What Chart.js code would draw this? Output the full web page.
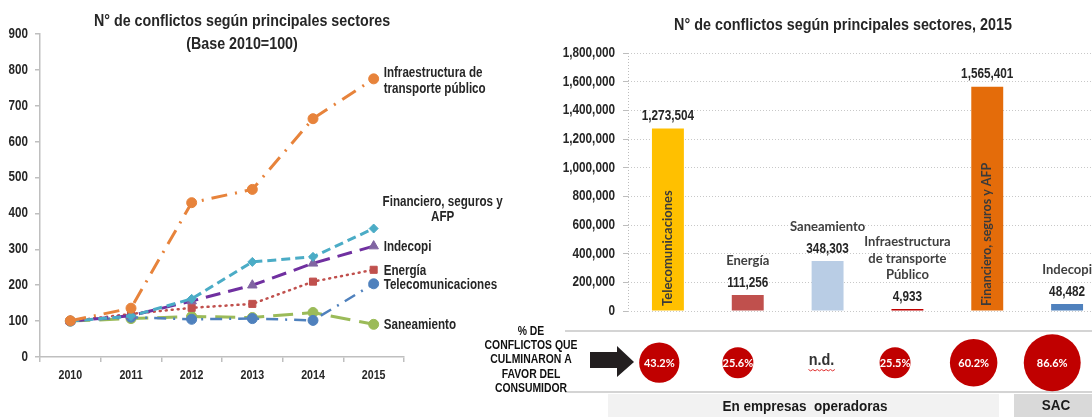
<!DOCTYPE html>
<html><head><meta charset="utf-8">
<script src="https://cdn.jsdelivr.net/npm/chart.js@4"></script>
<style>
html,body{margin:0;padding:0;background:#fff;overflow:hidden;}
#wrap{position:relative;width:1092px;height:417px;overflow:hidden;background:#fff;}
.cv{position:absolute;top:0;}
</style></head><body>
<div id="wrap">
<div class="cv" style="left:0;width:540px;height:417px"><canvas id="c1" width="540" height="417"></canvas></div>
<div class="cv" style="left:540px;width:580px;height:417px"><canvas id="c2" width="580" height="417"></canvas></div>
<div class="cv" style="left:0;width:1120px;height:417px"><canvas id="c3" width="1120" height="417"></canvas></div>
</div>
<script>
// ---------- DATA ----------
const years = ['2010','2011','2012','2013','2014','2015'];
const infraIdx    = [101, 136, 430, 467, 664, 775];
const finanIdx    = [100, 114, 162, 265, 279, 358];
const indecopiIdx = [100, 115, 156, 200, 261, 309];
const energiaIdx  = [100, 120, 137, 148, 210, 243];
const telecomIdx  = [100, 111, 105, 107, 102, 204];
const saneamIdx   = [100, 107, 113, 110, 124, 91];
const lineNames = ['Infraestructura de transporte público','Financiero, seguros y AFP','Indecopi','Energía','Telecomunicaciones','Saneamiento'];
const lineLabels = [['Infraestructura de','transporte público'],['Financiero, seguros y','AFP'],['Indecopi'],['Energía'],['Telecomunicaciones'],['Saneamiento']];
const leftYTicks = [0,100,200,300,400,500,600,700,800,900];

const sectors = ['Telecomunicaciones','Energía','Saneamiento','Infraestructura de transporte Público','Financiero, seguros y AFP','Indecopi'];
const sectorLabelLines = [['Telecomunicaciones'],['Energía'],['Saneamiento'],['Infraestructura','de transporte','Público'],['Financiero, seguros y AFP'],['Indecopi']];
const conflicts2015 = [1273504, 111256, 348303, 4933, 1565401, 48482];
const rotatedInside = [true, false, false, false, true, false];
const pctFavor = [43.2, 25.6, null, 25.5, 60.2, 86.6];
const rightYTicks = [0,200000,400000,600000,800000,1000000,1200000,1400000,1600000,1800000];

const titleLeft = ['N° de conflictos según principales sectores','(Base 2010=100)'];
const titleRight = 'N° de conflictos según principales sectores, 2015';
const sideText = ['% DE','CONFLICTOS QUE','CULMINARON A','FAVOR DEL','CONSUMIDOR'];
const groupLabels = ['En empresas  operadoras','SAC'];
const naText = 'n.d.';

// ---------- STYLE ----------
const SANS = '"Liberation Sans",Arial,sans-serif';
const CAL = 'Lato,"Open Sans",sans-serif';
const TXT = '#262626';
const NX = 0.83; // horizontal condensing to imitate a narrow face
const lineColors = ['#E7833B','#4BACC6','#7030A0','#C0504D','#4F81BD','#9BBB59'];
const markerColors = ['#E7833B','#4BACC6','#8064A2','#C0504D','#4F81BD','#9BBB59'];
const lineDashes = [[16,8,2,8],[9,5],[15,8],[1,5],[12,7,2,7],[20,9]];
const lineWidths = [3,3,3,2.5,2.5,3];
const capStyles = ['butt','butt','butt','round','butt','butt'];
const pointStyles = ['circle','rectRot','triangle','rect','circle','circle'];
const pointRadii = [5,4.5,5.5,5,5,5];
const barColors = ['#FFC000','#C0504D','#B9CDE5','#C00000','#E46C0A','#4F81BD'];

Chart.defaults.animation = false;
Chart.defaults.events = [];

function nText(ctx, t, x, y, size, align, sx, color, family){
  ctx.save();
  ctx.translate(x, y);
  ctx.scale(sx === undefined ? NX : sx, 1);
  ctx.font = 'bold ' + size + 'px ' + (family || SANS);
  ctx.textAlign = align || 'center';
  ctx.textBaseline = 'middle';
  ctx.fillStyle = color || TXT;
  ctx.fillText(t, 0, 0);
  ctx.restore();
}

// ---------- LEFT LINE CHART ----------
const lineSeries = [infraIdx, finanIdx, indecopiIdx, energiaIdx, telecomIdx, saneamIdx];
const leftPlugin = {
  id:'leftDeco',
  afterDraw(chart){
    const ctx = chart.ctx;
    nText(ctx, titleLeft[0], 242, 21, 17, 'center', 0.84);
    nText(ctx, titleLeft[1], 242, 44, 17, 'center', 0.84);
    // axis labels
    const ys = chart.scales.y, xs = chart.scales.x;
    leftYTicks.forEach(v => nText(ctx, String(v), ys.right - 12, ys.getPixelForValue(v), 14, 'right'));
    years.forEach((yr, i) => nText(ctx, yr, xs.getPixelForValue(i), xs.top + 18, 13, 'center', 0.82));
    chart.data.datasets.forEach((ds, di) => {
      const meta = chart.getDatasetMeta(di);
      const p = meta.data[meta.data.length-1];
      const lines = lineLabels[di];
      if (di === 0) {
        nText(ctx, lines[0], p.x + 10, p.y - 6, 14, 'left');
        nText(ctx, lines[1], p.x + 10, p.y + 10, 14, 'left');
      } else if (di === 1) {
        nText(ctx, lines[0], p.x + 69, p.y - 26, 14, 'center');
        nText(ctx, lines[1], p.x + 69, p.y - 11, 14, 'center');
      } else {
        nText(ctx, lines[0], p.x + 10, p.y + 1, 14, 'left');
      }
    });
  }
};
new Chart(document.getElementById('c1'), {
  type:'line',
  data:{
    labels: years,
    datasets: lineSeries.map((d,i)=>({
      label: lineNames[i], data: d,
      borderColor: lineColors[i], backgroundColor: markerColors[i],
      borderWidth: lineWidths[i], borderDash: lineDashes[i], borderCapStyle: capStyles[i],
      pointStyle: pointStyles[i], pointRadius: pointRadii[i],
      pointBackgroundColor: markerColors[i], pointBorderColor: markerColors[i], pointBorderWidth: 1,
      tension: 0, fill: false
    }))
  },
  options:{
    responsive:false, animation:false,
    layout:{padding:{top:34,right:136,left:0,bottom:0}},
    plugins:{legend:{display:false},title:{display:false},tooltip:{enabled:false}},
    scales:{
      x:{offset:true,
        grid:{display:true,drawOnChartArea:false,offset:true,tickLength:5,color:'#BFBFBF',lineWidth:1.5},
        border:{color:'#BFBFBF',width:1.5},
        ticks:{font:{family:SANS,size:12,weight:'bold'},color:'rgba(0,0,0,0)',padding:6},
        afterFit(s){ s.height = 60; }
      },
      y:{min:0,max:900,
        afterBuildTicks(s){ s.ticks = leftYTicks.map(v=>({value:v})); },
        grid:{display:true,drawOnChartArea:false,tickLength:5,color:'#BFBFBF',lineWidth:1.5},
        border:{color:'#BFBFBF',width:1.5},
        ticks:{font:{family:SANS,size:12,weight:'bold'},color:'rgba(0,0,0,0)',padding:7},
        afterFit(s){ s.width = 40; }
      }
    }
  },
  plugins:[leftPlugin]
});

// ---------- RIGHT BAR CHART ----------
const rightPlugin = {
  id:'rightDeco',
  beforeDatasetsDraw(chart){
    const ctx = chart.ctx, a = chart.chartArea;
    ctx.save();
    ctx.strokeStyle = '#BDBDBD'; ctx.lineWidth = 1; ctx.setLineDash([1,2]);
    ctx.beginPath(); ctx.moveTo(a.left+0.5, a.top); ctx.lineTo(a.left+0.5, a.bottom); ctx.stroke();
    ctx.restore();
  },
  afterDraw(chart){
    const ctx = chart.ctx, a = chart.chartArea;
    nText(ctx, titleRight, 303, 25, 17, 'center', 0.845);
    const ys = chart.scales.y;
    rightYTicks.forEach(v => nText(ctx, v.toLocaleString('en-US'), ys.right - 13, ys.getPixelForValue(v), 14, 'right', 0.84));
    const meta = chart.getDatasetMeta(0);
    ctx.save();
    meta.data.forEach((el,i)=>{
      const vy = el.y - 12;
      nText(ctx, conflicts2015[i].toLocaleString('en-US'), el.x, vy, 14, 'center', 0.84);
      ctx.font = 'bold 13px ' + CAL;
      ctx.fillStyle = '#404040';
      ctx.textBaseline = 'middle';
      const lines = sectorLabelLines[i];
      if (rotatedInside[i]) {
        ctx.save();
        ctx.translate(el.x, a.bottom - 5);
        ctx.rotate(-Math.PI/2);
        ctx.textAlign='left';
        ctx.fillStyle = '#3A3A3A';
        ctx.font = (i === 4 ? 'bold 12.5px ' : 'bold 13px ') + CAL;
        ctx.fillText(lines.join(' '), 0, 0);
        ctx.restore();
      } else {
        ctx.textAlign='center';
        const n = lines.length;
        lines.forEach((t,k)=>{
          ctx.fillText(t, el.x, vy - 22 - (n-1-k)*16.5);
        });
      }
    });
    ctx.restore();
  }
};
new Chart(document.getElementById('c2'), {
  type:'bar',
  data:{labels:sectors, datasets:[{data:conflicts2015, backgroundColor:barColors, barPercentage:0.4, categoryPercentage:1.0, minBarLength:2}]},
  options:{
    responsive:false, animation:false,
    layout:{padding:{top:53,right:13,left:0,bottom:106}},
    plugins:{legend:{display:false},tooltip:{enabled:false}},
    scales:{
      x:{display:false},
      y:{min:0,max:1800000,
        afterBuildTicks(s){ s.ticks = rightYTicks.map(v=>({value:v})); },
        grid:{color:'#C8C8C8',lineWidth:1,tickLength:5,tickColor:'#BDBDBD'},
        border:{display:false,dash:[1,2]},
        ticks:{font:{family:SANS,size:12,weight:'bold'},color:'rgba(0,0,0,0)',padding:8,
          callback:(v)=>Number(v).toLocaleString('en-US')},
        afterFit(s){ s.width = 88; }
      }
    }
  },
  plugins:[rightPlugin]
});

// ---------- BOTTOM BUBBLE ROW ----------
const bubbleData = [];
pctFavor.forEach((p,i)=>{ if(p!==null) bubbleData.push({x:sectors[i], y:0, r:3.06*Math.sqrt(p), v:p}); });
const bottomPlugin = {
  id:'bottomDeco',
  beforeDatasetsDraw(chart){
    const ctx = chart.ctx;
    ctx.save();
    ctx.strokeStyle = '#D4D4D4'; ctx.lineWidth = 2;
    ctx.beginPath(); ctx.moveTo(565, 331); ctx.lineTo(1120, 331); ctx.stroke();
    ctx.beginPath(); ctx.moveTo(565, 392); ctx.lineTo(1120, 392); ctx.stroke();
    ctx.fillStyle = '#F2F2F2'; ctx.fillRect(608, 394, 391, 23);
    ctx.fillStyle = '#D9D9D9'; ctx.fillRect(1014, 394, 106, 23);
    ctx.fillStyle = '#231F20';
    ctx.beginPath();
    ctx.moveTo(590, 352); ctx.lineTo(617, 352); ctx.lineTo(617, 346); ctx.lineTo(634, 362);
    ctx.lineTo(617, 377); ctx.lineTo(617, 368); ctx.lineTo(590, 368); ctx.closePath(); ctx.fill();
    ctx.restore();
  },
  afterDatasetsDraw(chart){
    const ctx = chart.ctx;
    sideText.forEach((t,k)=> nText(ctx, t, 531, 331 + k*14.4, 13, 'center', 0.8, '#111'));
    nText(ctx, groupLabels[0], 805, 407, 15, 'center', 0.9, '#1A1A1A');
    nText(ctx, groupLabels[1], 1056, 406, 15, 'center', 0.9, '#1A1A1A');
    ctx.save();
    ctx.textAlign='center'; ctx.textBaseline='middle';
    const meta = chart.getDatasetMeta(0);
    ctx.font = 'bold 11px ' + CAL; ctx.fillStyle = '#FFFFFF';
    meta.data.forEach((el,k)=>{ ctx.fillText(bubbleData[k].v.toFixed(1)+'%', el.x, el.y+0.5); });
    const xs = chart.scales.x;
    pctFavor.forEach((p,i)=>{
      if (p===null){
        const x = xs.getPixelForValue(i) + 5, y = chart.scales.y.getPixelForValue(0) - 2;
        nText(ctx, naText, x, y, 17, 'center', 0.85, '#333');
        ctx.strokeStyle = '#E03030'; ctx.lineWidth = 1;
        ctx.beginPath();
        for (let k=0;k<=12;k++){ const xx = x-13+k*2.2, yy = y+9 + (k%2?1.2:-0.2); if(k===0)ctx.moveTo(xx,yy); else ctx.lineTo(xx,yy); }
        ctx.stroke();
      }
    });
    ctx.restore();
  }
};
new Chart(document.getElementById('c3'), {
  type:'bubble',
  data:{labels:sectors, datasets:[{data:bubbleData, backgroundColor:'#C00000', borderWidth:0, clip:false}]},
  options:{
    responsive:false, animation:false,
    layout:{padding:{left:620,right:18,top:340,bottom:31.6}},
    plugins:{legend:{display:false},tooltip:{enabled:false}},
    scales:{
      x:{type:'category', labels:sectors, offset:true, display:false},
      y:{min:-1,max:1,display:false}
    }
  },
  plugins:[bottomPlugin]
});
</script>
</body></html>
